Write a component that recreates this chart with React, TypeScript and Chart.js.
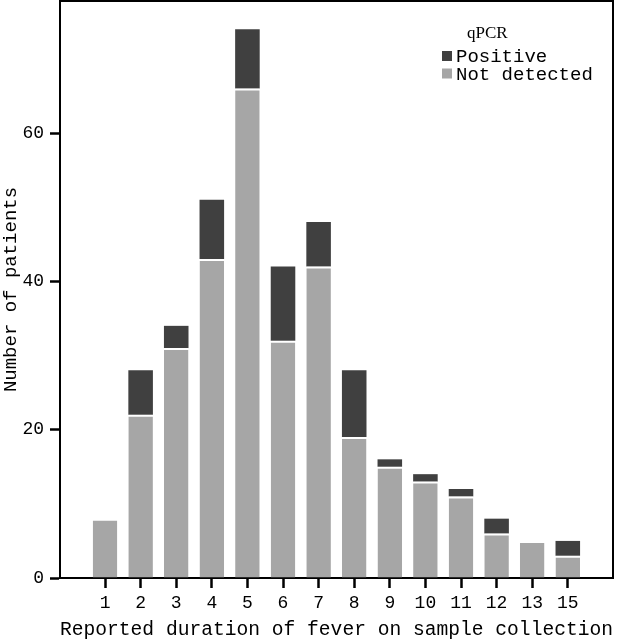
import React, { useEffect, useRef } from "react";
import { Chart, registerables } from "chart.js";

Chart.register(...registerables);

const categories = ["1", "2", "3", "4", "5", "6", "7", "8", "9", "10", "11", "12", "13", "15"];
const notDetected = [8, 22, 31, 43, 66, 32, 42, 19, 15, 13, 11, 6, 5, 3];
const positive = [0, 6, 3, 8, 8, 10, 6, 9, 1, 1, 1, 2, 0, 2];
const yTicks = [0, 20, 40, 60];

const legendTitle = "qPCR";
const seriesNames = ["Positive", "Not detected"];
const colPositive = "#404040";
const colNotDetected = "#a6a6a6";

const MONO = "'Liberation Mono', 'DejaVu Sans Mono', monospace";
const SERIF = "'Liberation Serif', 'DejaVu Serif', serif";

const framePlugin = {
  id: "frame",
  afterDraw(chart: any) {
    const { ctx, chartArea } = chart;
    ctx.save();
    ctx.strokeStyle = "#000";
    ctx.lineWidth = 2;
    ctx.beginPath();
    ctx.moveTo(chartArea.left, chartArea.top);
    ctx.lineTo(chartArea.right, chartArea.top);
    ctx.lineTo(chartArea.right, chartArea.bottom);
    ctx.stroke();
    // legend
    ctx.fillStyle = "#000";
    ctx.font = "17px " + SERIF;
    ctx.textBaseline = "alphabetic";
    ctx.textAlign = "left";
    ctx.fillText(legendTitle, 467, 38);
    const items = [
      { name: seriesNames[0], color: colPositive, y: 62 },
      { name: seriesNames[1], color: colNotDetected, y: 79.5 },
    ];
    ctx.font = "19px " + MONO;
    for (const it of items) {
      ctx.fillStyle = it.color;
      ctx.fillRect(442, it.y - 11, 10, 10);
      ctx.fillStyle = "#000";
      ctx.fillText(it.name, 456, it.y);
    }
    ctx.restore();
  },
};

export default function App() {
  const ref = useRef<HTMLCanvasElement>(null);
  useEffect(() => {
    document.body.style.margin = "0";
    const ndData = categories.map((_, i) => ({ x: i + 1, y: notDetected[i] }));
    const pData = categories.map((_, i) => ({ x: i + 1, y: positive[i] }));
    const chart = new Chart(ref.current!, {
      type: "bar",
      data: {
        datasets: [
          {
            label: seriesNames[1],
            data: ndData,
            backgroundColor: colNotDetected,
            borderColor: "#ffffff",
            borderWidth: { top: 2, left: 0, right: 0, bottom: 0 } as any,
            borderSkipped: false,
            categoryPercentage: 1,
            barPercentage: 0.69,
          },
          {
            label: seriesNames[0],
            data: pData,
            backgroundColor: colPositive,
            borderWidth: 0,
            categoryPercentage: 1,
            barPercentage: 0.69,
          },
        ],
      },
      options: {
        animation: false,
        responsive: true,
        maintainAspectRatio: false,
        layout: { padding: { top: 1, right: 6, left: 0, bottom: 0 } },
        plugins: { legend: { display: false }, tooltip: { enabled: false } },
        scales: {
          x: {
            type: "linear",
            stacked: true,
            offset: false,
            min: -0.265,
            max: 15.27,
            afterFit: (s: any) => {
              s.height = 62;
              s.paddingLeft = 0;
              s.paddingRight = 0;
            },
            afterBuildTicks: (s: any) => {
              s.ticks = categories.map((_, i) => ({ value: i + 1 }));
            },
            ticks: {
              autoSkip: false,
              maxRotation: 0,
              padding: 4,
              color: "#000",
              font: { family: MONO, size: 18 },
              callback: (v: any) => categories[Math.round(v) - 1] ?? "",
            },
            grid: {
              display: true,
              offset: false,
              drawOnChartArea: false,
              drawTicks: true,
              tickLength: 10,
              tickWidth: 2.5,
              tickColor: "#000",
            },
            border: { display: true, color: "#000", width: 2 },
            title: {
              display: true,
              text: "Reported duration of fever on sample collection",
              color: "#000",
              font: { family: MONO, size: 20, lineHeight: 1 },
              padding: 0,
            },
          },
          y: {
            type: "linear",
            stacked: true,
            min: 0,
            max: 77.8,
            afterFit: (s: any) => {
              s.width = 60;
              s.paddingTop = 0;
              s.paddingBottom = 0;
            },
            afterBuildTicks: (s: any) => {
              s.ticks = yTicks.map((v) => ({ value: v }));
            },
            ticks: {
              padding: 6,
              color: "#000",
              font: { family: MONO, size: 18 },
            },
            grid: {
              display: true,
              drawOnChartArea: false,
              drawTicks: true,
              tickLength: 10,
              tickWidth: 2.5,
              tickColor: "#000",
            },
            border: { display: true, color: "#000", width: 2 },
            title: {
              display: true,
              text: "Number of patients",
              color: "#000",
              font: { family: MONO, size: 19, lineHeight: 1 },
              padding: { top: 1, bottom: 0 },
            },
          },
        },
      },
      plugins: [framePlugin],
    });
    return () => chart.destroy();
  }, []);
  return (
    <div style={{ position: "fixed", left: 0, top: 0, width: 619, height: 640 }}>
      <canvas ref={ref} />
    </div>
  );
}
